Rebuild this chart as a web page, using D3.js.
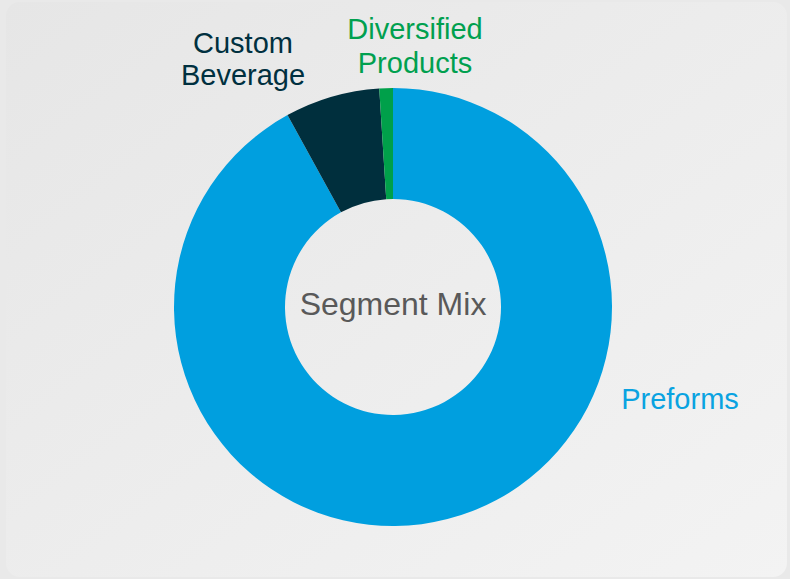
<!DOCTYPE html>
<html>
<head>
<meta charset="utf-8">
<script src="https://cdn.jsdelivr.net/npm/d3@7"></script>
<style>
  html, body { margin: 0; padding: 0; background: #e9e9e9; }
  svg { display: block; }
</style>
</head>
<body>
<svg id="chart" width="790" height="579"></svg>
<script>
// Segment mix shares (percent of total)
const segments = ["Preforms", "Custom Beverage", "Diversified Products"];
const shares = [92, 7, 1];
const segmentColors = ["#009fdf", "#002f3d", "#00a04a"];
const labelColors = ["#0aa3e1", "#00303f", "#00a04f"];
const labelLines = [["Preforms"], ["Custom", "Beverage"], ["Diversified", "Products"]];
const centerTitle = "Segment Mix";

const width = 790, height = 579;
const cx = 393, cy = 307;
const outerR = 219, innerR = 108;

const svg = d3.select("#chart");

// Card background with soft gradient
const defs = svg.append("defs");
const grad = defs.append("linearGradient")
  .attr("id", "cardGrad")
  .attr("x1", "0%").attr("y1", "0%")
  .attr("x2", "100%").attr("y2", "100%");
grad.append("stop").attr("offset", "0%").attr("stop-color", "#e6e6e6");
grad.append("stop").attr("offset", "100%").attr("stop-color", "#f3f3f3");

svg.append("rect")
  .attr("x", 6).attr("y", 2)
  .attr("width", 781).attr("height", 575)
  .attr("rx", 14).attr("ry", 14)
  .attr("fill", "url(#cardGrad)");

const data = segments.map((name, i) => ({
  name, value: shares[i], color: segmentColors[i],
  labelColor: labelColors[i], lines: labelLines[i]
}));

// Clockwise from 12 o'clock: Preforms first, small segments close the ring
const pie = d3.pie()
  .value(d => d.value)
  .sort(null);

const arcs = pie(data);

const arc = d3.arc()
  .innerRadius(innerR)
  .outerRadius(outerR);

const g = svg.append("g").attr("transform", `translate(${cx},${cy})`);

g.selectAll("path.slice")
  .data(arcs)
  .join("path")
  .attr("class", "slice")
  .attr("d", arc)
  .attr("fill", d => d.data.color);

// Centre title
g.append("text")
  .attr("x", 0).attr("y", 8)
  .attr("text-anchor", "middle")
  .attr("font-family", "'Liberation Sans', Arial, sans-serif")
  .attr("font-size", 32)
  .attr("fill", "#595959")
  .text(centerTitle);

// Outside labels, placed along a radial direction from each slice
const labelPos = {
  "Preforms": { x: 680, y: 409 },
  "Custom Beverage": { x: 243, y: 53 },
  "Diversified Products": { x: 415, y: 39 }
};
const lineGap = { "Preforms": 0, "Custom Beverage": 32, "Diversified Products": 33.5 };

const labels = svg.selectAll("text.seg-label")
  .data(arcs)
  .join("text")
  .attr("class", "seg-label")
  .attr("text-anchor", "middle")
  .attr("font-family", "'Liberation Sans', Arial, sans-serif")
  .attr("font-size", 29)
  .attr("fill", d => d.data.labelColor)
  .attr("x", d => labelPos[d.data.name].x)
  .attr("y", d => labelPos[d.data.name].y);

labels.selectAll("tspan")
  .data(d => d.data.lines.map((t, i) => ({ t, i, d })))
  .join("tspan")
  .attr("x", o => labelPos[o.d.data.name].x)
  .attr("dy", o => o.i === 0 ? 0 : lineGap[o.d.data.name])
  .text(o => o.t);
</script>
</body>
</html>
